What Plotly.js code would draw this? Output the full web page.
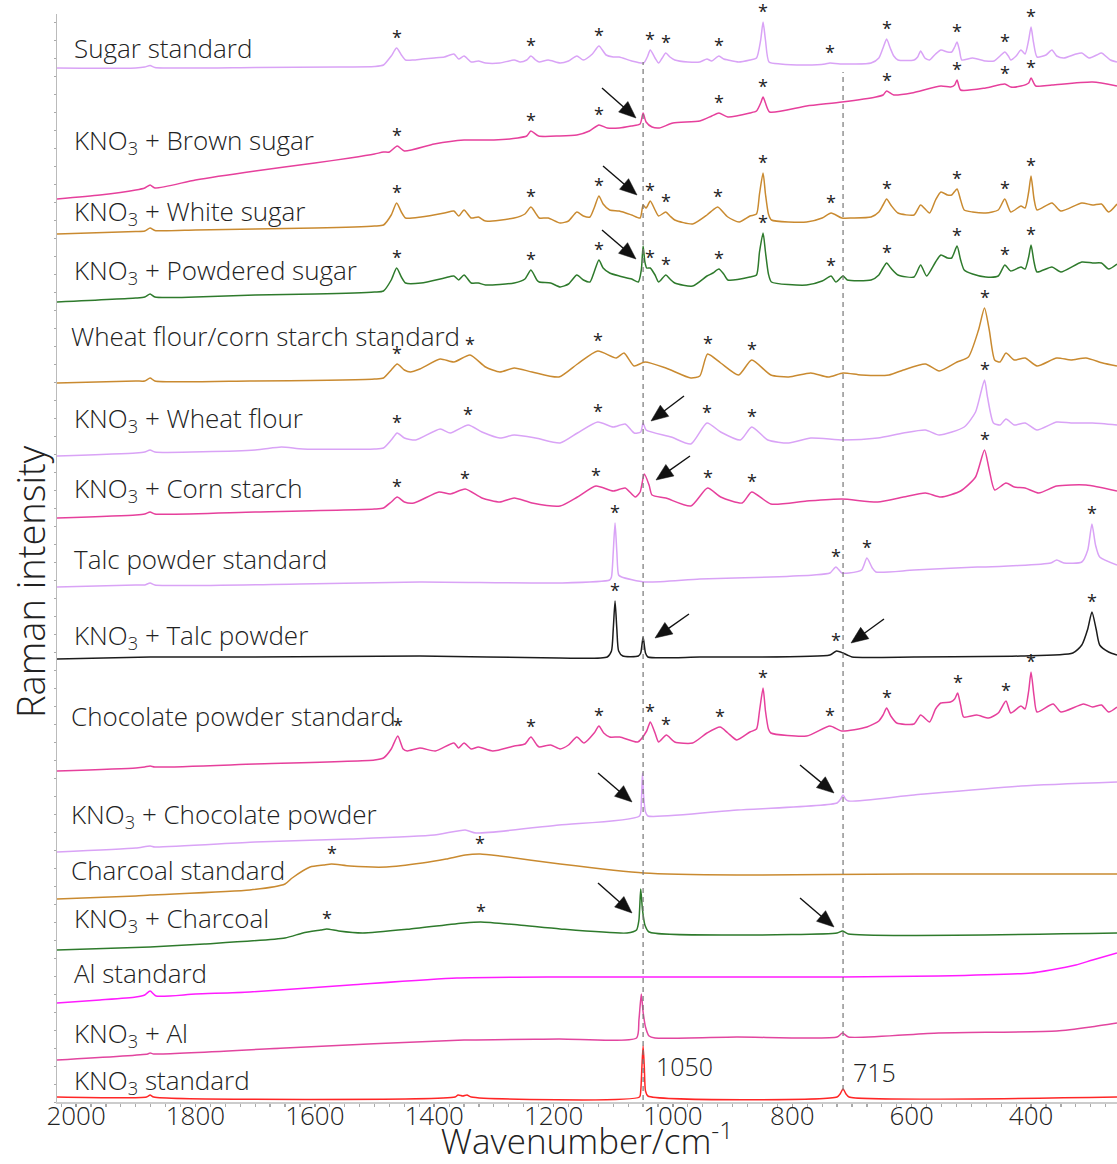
<!DOCTYPE html>
<html>
<head>
<meta charset="utf-8">
<script src="https://cdn.plot.ly/plotly-3.0.1.min.js"></script>
<style>
  html, body { margin: 0; padding: 0; background: #ffffff; }
  #chart { width: 1117px; height: 1164px; }
</style>
</head>
<body>
<div id="chart"></div>
<script>
// ---------------- DATA (wavenumber cm-1, relative intensity a.u.) ----------------
const sugarStd = [[2032,0],[1900,0],[1885,1],[1876,2.5],[1868,0.5],[1700,0.5],[1560,1],[1500,1.5],[1485,3],[1472,12],[1463,20],[1455,13],[1448,8],[1435,8],[1420,9],[1400,10],[1383,11],[1367,14],[1359,9],[1350,12],[1338,6],[1326,7],[1314,5],[1290,5],[1266,8],[1256,6],[1245,8],[1238,12],[1230,8],[1224,6],[1209,8],[1189,5],[1175,7],[1161,12],[1150,8],[1135,14],[1124,22],[1112,13],[1100,11],[1090,11],[1069,7],[1049,5],[1043,11],[1038,18],[1030,10],[1024,5],[1018,10],[1012,15],[1005,11],[997,8],[975,6],[955,6],[943,9],[935,7],[923,12],[915,9],[908,8],[890,6],[871,8],[860,10],[853,28],[849,46],[845,28],[839,6],[820,4],[776,3],[745,4],[737,5],[720,4],[668,5],[655,10],[648,20],[642,29],[636,20],[630,12],[623,8],[596,8],[590,11],[585,17],[578,10],[570,8],[560,14],[551,18],[540,16],[533,16],[528,21],[524,26],[520,18],[516,8],[498,10],[476,7],[462,7],[452,12],[444,16],[438,12],[434,8],[425,12],[417,18],[410,14],[404,28],[400,41],[396,26],[390,11],[375,13],[365,18],[357,12],[345,10],[325,14],[315,15],[303,10],[290,13],[282,15],[267,8],[256,6]];

const brownSugar = [[2032,0],[1960,4],[1900,9],[1885,11],[1876,14],[1868,11],[1800,19],[1700,28],[1600,36],[1541,41],[1500,45],[1485,47],[1475,47],[1462,53],[1450,48],[1400,55],[1350,59],[1300,59],[1260,61],[1245,63],[1238,68],[1225,63],[1190,63],[1161,64],[1140,68],[1124,74],[1110,71],[1090,71],[1070,73],[1055,75],[1050,86],[1045,77],[1035,72],[1023,71],[1000,76],[955,78],[935,83],[923,86],[908,82],[871,86],[860,88],[853,96],[849,102],[845,96],[838,87],[776,93],[717,97],[660,102],[648,104],[642,108],[630,104],[600,106],[551,113],[535,112],[528,114],[524,119],[518,109],[476,111],[444,115],[434,112],[417,113],[404,116],[400,121],[392,113],[365,114],[297,117],[256,113]];

const whiteSugar = [[2032,0],[1900,2.5],[1885,3],[1876,6],[1868,3.5],[1800,4],[1700,5],[1600,6],[1500,8],[1485,9],[1472,19],[1463,31],[1455,22],[1448,16],[1422,17],[1383,21],[1367,23],[1359,18],[1350,24],[1338,16],[1326,17],[1314,13],[1266,16],[1248,20],[1238,27],[1228,19],[1224,16],[1209,16],[1189,11],[1175,13],[1161,22],[1150,18],[1139,17],[1132,26],[1124,38],[1117,30],[1106,24],[1090,23],[1069,19],[1055,16],[1050,29],[1045,26],[1038,33],[1030,24],[1024,18],[1012,22],[1005,18],[997,14],[967,10],[943,19],[933,24],[925,27],[908,17],[889,12],[871,18],[860,20],[855,40],[849,61],[845,40],[840,20],[835,14],[776,12],[750,16],[735,21],[717,16],[700,16],[668,17],[655,22],[648,29],[642,35],[635,29],[623,21],[596,19],[585,29],[570,21],[560,34],[551,42],[540,39],[533,39],[524,45],[518,34],[512,24],[498,22],[476,21],[455,24],[444,35],[434,22],[417,28],[410,26],[404,42],[400,58],[395,35],[390,24],[365,31],[350,23],[315,31],[297,29],[282,30],[270,22],[256,30]];

const powderedSugar = [[2032,0],[1900,4],[1885,5],[1876,8],[1868,5],[1800,5],[1700,7],[1600,8],[1500,10],[1485,11],[1472,22],[1463,34],[1455,25],[1448,19],[1422,19],[1383,24],[1367,26],[1359,22],[1350,27],[1338,19],[1326,19],[1314,17],[1266,19],[1248,23],[1238,32],[1228,22],[1224,20],[1205,19],[1189,15],[1175,18],[1161,27],[1150,22],[1139,20],[1132,30],[1124,42],[1117,34],[1106,29],[1090,26],[1069,23],[1058,20],[1053,32],[1050,56],[1047,40],[1044,34],[1038,34],[1030,27],[1024,20],[1012,27],[1005,23],[997,19],[967,16],[943,26],[933,29],[923,33],[915,28],[908,22],[871,25],[860,27],[855,50],[849,69],[845,50],[840,28],[835,20],[776,17],[750,21],[735,26],[727,20],[715,26],[708,22],[668,22],[655,27],[648,34],[642,39],[635,34],[623,27],[596,25],[585,37],[575,26],[560,40],[551,47],[540,44],[533,44],[524,56],[518,42],[512,32],[498,28],[476,25],[455,26],[444,37],[434,31],[417,35],[410,33],[404,45],[400,57],[395,40],[390,30],[365,35],[350,30],[315,40],[297,39],[282,39],[270,33],[256,38]];

const flourStarchStd = [[2032,0],[1900,2],[1885,2],[1876,5],[1868,2],[1709,2],[1500,4],[1485,5],[1472,13],[1462,19],[1450,13],[1440,11],[1424,14],[1390,24],[1367,21],[1340,28],[1314,16],[1290,11],[1266,15],[1236,11],[1191,6],[1160,19],[1126,32],[1095,25],[1082,30],[1065,17],[1047,21],[1012,15],[970,5],[955,7],[942,29],[920,20],[890,8],[868,23],[836,8],[806,6],[769,10],[740,6],[715,10],[685,8],[638,8],[614,13],[577,19],[554,12],[524,21],[505,26],[488,53],[478,75],[470,53],[461,23],[452,21],[442,30],[428,23],[410,25],[390,17],[357,25],[333,23],[308,25],[280,20],[256,17]];

const wheatFlour = [[2032,0],[1900,3],[1885,4],[1876,6],[1868,4],[1700,6],[1656,9],[1620,7],[1500,7],[1485,8],[1472,16],[1462,23],[1450,18],[1431,16],[1390,27],[1373,23],[1343,31],[1320,24],[1290,18],[1266,21],[1230,18],[1189,13],[1160,23],[1126,34],[1100,29],[1080,32],[1065,23],[1054,24],[1050,33],[1045,26],[1003,19],[970,12],[943,33],[920,24],[887,16],[868,29],[841,16],[806,13],[769,18],[715,16],[657,18],[614,23],[577,26],[554,21],[512,29],[493,44],[478,76],[473,59],[463,33],[452,31],[442,37],[428,31],[410,33],[390,26],[357,34],[333,33],[297,33],[256,31]];

const cornStarch = [[2032,0],[1900,3],[1885,4],[1876,6],[1868,4],[1700,6],[1500,9],[1485,10],[1472,16],[1462,21],[1450,16],[1434,15],[1392,26],[1373,24],[1348,29],[1320,20],[1290,16],[1266,20],[1236,15],[1189,12],[1160,21],[1129,32],[1100,27],[1080,30],[1063,21],[1055,26],[1048,44],[1040,33],[1035,23],[1012,20],[970,12],[942,30],[920,21],[884,15],[868,26],[836,14],[776,17],[717,19],[657,16],[614,21],[577,25],[551,21],[518,27],[493,41],[478,68],[470,48],[461,28],[442,35],[428,31],[410,30],[387,25],[357,32],[308,33],[256,27]];

const talcStd = [[2032,0],[1900,2],[1885,2],[1876,4],[1868,2],[1625,3],[1424,5],[1191,4],[1106,7],[1103,10],[1100,35],[1097,64],[1094,35],[1091,12],[1086,10],[1047,5],[955,8],[836,10],[764,12],[737,14],[727,20],[717,14],[705,14],[684,17],[675,29],[666,19],[660,15],[596,17],[490,20],[476,20],[367,24],[357,27],[345,24],[315,25],[305,37],[298,63],[292,42],[285,30],[256,22]];

const talcPowder = [[2032,0],[1876,2],[1700,2],[1424,3],[1191,1],[1110,2],[1103,8],[1100,30],[1097,58],[1094,30],[1091,8],[1084,3],[1058,3],[1054,6],[1050,22],[1046,6],[1042,2],[955,2],[737,4],[726,8],[715,6],[708,4],[700,2],[596,2],[417,3],[330,6],[315,14],[305,30],[298,47],[291,30],[285,14],[270,7],[256,4]];

const chocolateStd = [[2032,0],[1900,3],[1885,4],[1876,5],[1868,4],[1700,7],[1500,11],[1485,13],[1472,22],[1461,35],[1452,22],[1445,20],[1424,23],[1398,20],[1367,28],[1359,23],[1350,28],[1338,22],[1326,24],[1302,20],[1266,25],[1248,27],[1238,34],[1228,26],[1224,24],[1205,26],[1189,22],[1175,26],[1161,34],[1149,28],[1132,38],[1124,45],[1116,38],[1106,34],[1089,34],[1059,29],[1044,40],[1038,49],[1030,38],[1024,29],[1011,36],[997,29],[967,28],[943,38],[921,44],[908,38],[893,31],[871,39],[860,42],[855,60],[849,83],[845,60],[840,42],[836,38],[776,35],[737,45],[717,40],[675,44],[655,50],[648,56],[642,63],[635,55],[625,48],[596,47],[585,56],[570,49],[560,62],[551,68],[535,69],[528,72],[523,78],[518,66],[513,54],[491,56],[471,53],[455,58],[442,70],[434,58],[417,65],[410,62],[404,80],[400,99],[395,75],[390,59],[363,67],[350,59],[312,67],[297,64],[282,66],[270,59],[256,64]];

const chocolatePowder = [[2032,0],[1900,4],[1876,6],[1868,5],[1700,10],[1541,13],[1400,17],[1348,22],[1330,19],[1191,27],[1056,36],[1053,50],[1051,79],[1049,55],[1046,40],[1042,36],[892,42],[725,49],[719,53],[715,57],[711,53],[706,51],[596,57],[417,66],[256,70]];

const charcoalStd = [[2032,0],[1900,3],[1876,4],[1709,9],[1650,15],[1638,21],[1608,32],[1585,34],[1572,35],[1541,33],[1480,32],[1420,36],[1380,40],[1348,44],[1323,45],[1290,43],[1189,35],[1049,26],[893,24],[596,25],[256,25]];

const charcoal = [[2032,0],[1876,3],[1785,6],[1650,12],[1620,17],[1590,20],[1580,21],[1560,19],[1520,17],[1440,21],[1350,27],[1322,28],[1258,25],[1189,21],[1077,17],[1061,20],[1057,30],[1054,61],[1051,40],[1047,25],[1040,18],[893,15],[725,17],[716,19],[706,16],[256,17]];

const alStd = [[2032,0],[1960,3],[1900,6],[1885,8],[1876,12],[1866,7],[1800,9],[1709,11],[1541,18],[1362,25],[1191,26],[893,26],[717,26],[555,27],[400,30],[367,33],[325,38],[297,43],[256,50]];

const kno3Al = [[2032,0],[1880,6],[1876,7],[1870,6],[1650,12],[1350,20],[1191,21],[1061,22],[1057,40],[1053,66],[1050,48],[1046,33],[1040,24],[1030,22],[893,23],[725,23],[716,27],[706,23],[555,27],[357,29],[300,33],[256,37]];

const kno3Std = [[2032,0],[1882,0],[1876,2],[1870,0],[1365,0],[1360,2],[1352,1],[1345,2],[1338,0],[1056,0],[1054,6],[1052,30],[1050,51],[1048,30],[1046,6],[1042,1],[725,0],[720,3],[715,8],[710,3],[705,0],[256,0]];

// series names (labels drawn in the plot)
const seriesNames = [
  "Sugar standard",
  "KNO<sub>3</sub> + Brown sugar",
  "KNO<sub>3</sub> + White sugar",
  "KNO<sub>3</sub> + Powdered sugar",
  "Wheat flour/corn starch standard",
  "KNO<sub>3</sub> + Wheat flour",
  "KNO<sub>3</sub> + Corn starch",
  "Talc powder standard",
  "KNO<sub>3</sub> + Talc powder",
  "Chocolate powder standard",
  "KNO<sub>3</sub> + Chocolate powder",
  "Charcoal standard",
  "KNO<sub>3</sub> + Charcoal",
  "Al standard",
  "KNO<sub>3</sub> + Al",
  "KNO<sub>3</sub> standard"
];
// vertical stacking offsets of each spectrum (a.u.)
const stackOffsets = [1034, 903, 868, 800, 719, 646, 584, 515, 443, 331, 250, 203, 152, 99, 42, 5];

// peaks marked with * (cm-1)
const starPeaks = [
  [1462,1238,1124,1038,1012,923,849,737,642,524,444,400],
  [1462,1238,1124,923,849,642,524,444,400],
  [1463,1238,1124,1038,1012,925,849,735,642,524,444,400],
  [1463,1238,1124,1038,1012,923,849,735,642,524,444,400],
  [1462,1340,1126,942,868,478],
  [1462,1343,1126,943,868,478],
  [1462,1348,1129,942,868,478],
  [1097,727,675,298],
  [1097,726,298],
  [1461,1238,1124,1038,1011,921,849,737,642,523,442,400],
  [],
  [1572,1323],
  [1580,1322],
  [],
  [],
  []
];
// KNO3 reference bands (cm-1)
const kno3Bands = [1050, 715];

// ---------------- STYLE / LAYOUT ----------------
const spectra = [sugarStd, brownSugar, whiteSugar, powderedSugar, flourStarchStd, wheatFlour, cornStarch,
                 talcStd, talcPowder, chocolateStd, chocolatePowder, charcoalStd, charcoal, alStd, kno3Al, kno3Std];
const lav = '#d9a3f6', pink = '#e6409c', gold = '#c98a30', green = '#2e7a2c';
const colors = [lav, pink, gold, green, gold, lav, pink, lav, '#1c1c1c', pink, lav, gold, green, '#ff1cff', '#e2459f', '#ff2626'];

const W = 1117, H = 1164, ML = 57, MT = 14, MB = 62, MR = 0;
const PW = W - ML - MR, PH = H - MT - MB;
const pxX = px => (px - ML) / PW;
const pxY = py => (H - MB - py) / PH;

const FONT = '"Open Sans", "Liberation Sans", Arial, sans-serif';
const TXT = '#222222';

const traces = spectra.map((s, i) => ({
  type: 'scatter', mode: 'lines',
  x: s.map(p => p[0]),
  y: s.map(p => p[1] + stackOffsets[i]),
  name: seriesNames[i],
  line: { color: colors[i], width: 1.5, shape: 'spline', smoothing: 0.6 },
  hoverinfo: 'x+name',
  showlegend: false
}));

// label positions (pixel: left x, centre y)
const labelPos = [[72,48],[72,141],[72,212],[72,271],[69,336],[72,419],[72,489],[72,559],[72,636],[69,716],[69,815],[69,870],[72,919],[72,973],[72,1034],[72,1081]];

const annotations = [];
seriesNames.forEach((n, i) => {
  annotations.push({
    xref: 'paper', yref: 'paper', x: pxX(labelPos[i][0]), y: pxY(labelPos[i][1]),
    xanchor: 'left', yanchor: 'middle', text: n, showarrow: false,
    font: { family: FONT, size: 26, color: TXT, weight: 300 }
  });
});

function peakValue(spec, w) {
  let best = -Infinity;
  spec.forEach(p => { if (Math.abs(p[0] - w) <= 6) best = Math.max(best, p[1]); });
  if (best === -Infinity) {
    for (let k = 0; k < spec.length - 1; k++) {
      const a = spec[k], b = spec[k + 1];
      if ((a[0] - w) * (b[0] - w) <= 0) { best = a[1] + (b[1] - a[1]) * (w - a[0]) / (b[0] - a[0]); break; }
    }
  }
  return best;
}
starPeaks.forEach((list, i) => {
  list.forEach(w => {
    annotations.push({
      xref: 'x', yref: 'y', x: w, y: peakValue(spectra[i], w) + stackOffsets[i],
      text: '*', showarrow: false, yanchor: 'bottom', xanchor: 'center', yshift: -3,
      font: { family: FONT, size: 18, color: TXT }
    });
  });
});

// band numbers
annotations.push({ xref: 'paper', yref: 'paper', x: pxX(654), y: pxY(1066), xanchor: 'left', yanchor: 'middle',
  text: String(kno3Bands[0]), showarrow: false, font: { family: FONT, size: 25, color: TXT, weight: 300 } });
annotations.push({ xref: 'paper', yref: 'paper', x: pxX(851), y: pxY(1072), xanchor: 'left', yanchor: 'middle',
  text: String(kno3Bands[1]), showarrow: false, font: { family: FONT, size: 25, color: TXT, weight: 300 } });

// y axis title
annotations.push({ xref: 'paper', yref: 'paper', x: pxX(30), y: pxY(582), xanchor: 'center', yanchor: 'middle',
  text: 'Raman intensity', textangle: -90, showarrow: false, font: { family: FONT, size: 38, color: TXT, weight: 300 } });

const shapes = [
  { type: 'line', xref: 'x', yref: 'paper', x0: kno3Bands[0], x1: kno3Bands[0], y0: pxY(1100), y1: pxY(62),
    line: { color: '#777777', width: 1.2, dash: '5px,4px' } },
  { type: 'line', xref: 'x', yref: 'paper', x0: kno3Bands[1], x1: kno3Bands[1], y0: pxY(1090), y1: pxY(72),
    line: { color: '#777777', width: 1.2, dash: '5px,4px' } }
];

// arrows: [headX, headY, tailX, tailY] in pixels -> drawn as line + filled head
const arrows = [
  [636,118,602,88],[637,195,603,166],[636,259,602,230],
  [651,421,684,396],[656,480,690,456],
  [655,638,689,614],[851,643,884,619],
  [632,802,598,773],[834,793,800,765],
  [632,913,598,883],[834,927,800,898]
];
arrows.forEach(a => {
  const [hx, hy, tx, ty] = a;
  const dx = hx - tx, dy = hy - ty, L = Math.hypot(dx, dy);
  const ux = dx / L, uy = dy / L, nx = -uy, ny = ux;
  const hl = 17, hw = 7;
  const bx = hx - ux * hl, by = hy - uy * hl;
  shapes.push({ type: 'line', xref: 'paper', yref: 'paper',
    x0: pxX(tx), y0: pxY(ty), x1: pxX(bx + ux * 3), y1: pxY(by + uy * 3),
    line: { color: '#111111', width: 1.4 } });
  shapes.push({ type: 'path', xref: 'paper', yref: 'paper',
    path: `M ${pxX(hx)},${pxY(hy)} L ${pxX(bx + nx * hw)},${pxY(by + ny * hw)} L ${pxX(bx - nx * hw)},${pxY(by - ny * hw)} Z`,
    fillcolor: '#111111', line: { color: '#111111', width: 0.5 } });
});

const layout = {
  width: W, height: H,
  margin: { l: ML, r: MR, t: MT, b: MB, pad: 0 },
  paper_bgcolor: '#ffffff', plot_bgcolor: '#ffffff',
  showlegend: false,
  font: { family: FONT, color: TXT },
  xaxis: {
    range: [2032, 256], autorange: false,
    showline: true, linecolor: '#cccccc', linewidth: 2, mirror: false,
    showgrid: false, zeroline: false,
    ticks: 'outside', ticklen: 3, tickwidth: 1.5, tickcolor: '#999999',
    tick0: 0, dtick: 200,
    ticklabelstandoff: -13,
    minor: { dtick: 25, ticks: 'outside', ticklen: 3, tickwidth: 1.2, tickcolor: '#aaaaaa', showgrid: false },
    tickfont: { family: FONT, size: 26, color: TXT, weight: 300 },
    title: { text: 'Wavenumber/cm<sup>-1</sup>', font: { family: FONT, size: 35, color: TXT, weight: 300 }, standoff: 5 }
  },
  yaxis: {
    range: [0, PH], autorange: false,
    showline: true, linecolor: '#bbbbbb', linewidth: 1,
    showgrid: false, zeroline: false,
    ticks: 'outside', ticklen: 2, tickwidth: 1, tickcolor: '#aaaaaa', dtick: 18,
    showticklabels: false
  },
  annotations: annotations,
  shapes: shapes
};

Plotly.newPlot('chart', traces, layout, { displayModeBar: false, staticPlot: true });
</script>
</body>
</html>
